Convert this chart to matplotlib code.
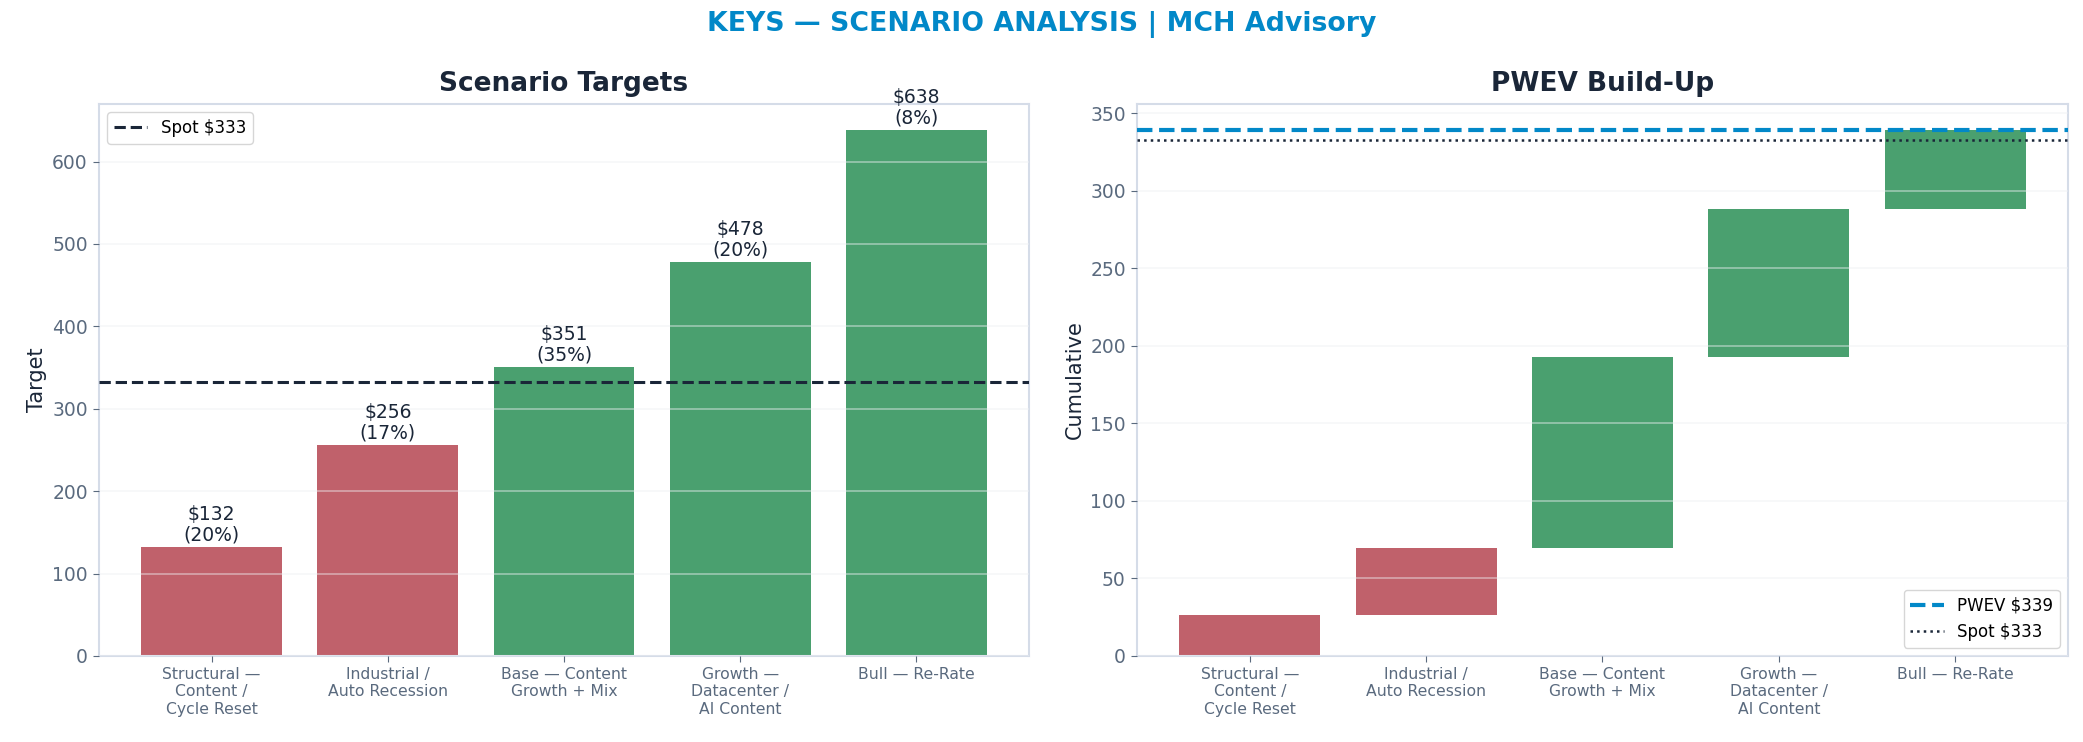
import numpy as np
import matplotlib.pyplot as plt

# scenario data
scenarios = ["Structural —\nContent /\nCycle Reset", "Industrial /\nAuto Recession",
             "Base — Content\nGrowth + Mix", "Growth —\nDatacenter /\nAI Content",
             "Bull — Re-Rate"]
targets = [132, 256, 351, 478, 638]
probs = [0.20, 0.17, 0.35, 0.20, 0.08]
spot = 333
pwev = 339

RED = "#c0616b"
GREEN = "#4aa06f"
NAVY = "#1a2638"
BLUE = "#0288c8"
GREY = "#5a6a7e"
SPINE = "#d5dce8"

colors = [RED if t < spot else GREEN for t in targets]
x = np.arange(len(scenarios))

fig = plt.figure(figsize=(20.83, 7.42), dpi=100)
ax1 = fig.add_axes([0.0475, 0.116, 0.4465, 0.744])
ax2 = fig.add_axes([0.5458, 0.116, 0.447, 0.744])

fig.suptitle("KEYS — SCENARIO ANALYSIS | MCH Advisory", color=BLUE,
             fontsize=19.3, fontweight="bold", y=0.985)

# left: scenario targets
ax1.bar(x, targets, width=0.8, color=colors, zorder=2)
ax1.axhline(spot, color=NAVY, ls="--", lw=2.2, label=f"Spot ${spot}", zorder=3)
for xi, t, p in zip(x, targets, probs):
    ax1.text(xi, t + 3, f"${t}\n({p:.0%})", ha="center", va="bottom",
             fontsize=13.5, color=NAVY, zorder=4, linespacing=1.1)
ax1.set_ylim(0, 670)
ax1.set_ylabel("Target", fontsize=15, color=NAVY)
ax1.set_title("Scenario Targets", fontsize=19, fontweight="bold", color=NAVY, pad=9)
ax1.legend(loc="upper left", fontsize=12, frameon=True, edgecolor="#cccccc")

# right: PWEV waterfall
contrib = [t * p for t, p in zip(targets, probs)]
bottoms = np.concatenate([[0], np.cumsum(contrib)[:-1]])
ax2.bar(x, contrib, bottom=bottoms, width=0.8, color=colors, zorder=2)
ax2.axhline(pwev, color=BLUE, ls="--", lw=3, label=f"PWEV ${pwev}", zorder=3)
ax2.axhline(spot, color=NAVY, ls=":", lw=1.8, label=f"Spot ${spot}", zorder=3)
ax2.set_ylim(0, 356)
ax2.set_ylabel("Cumulative", fontsize=15, color=NAVY)
ax2.set_title("PWEV Build-Up", fontsize=19, fontweight="bold", color=NAVY, pad=9)
ax2.legend(loc="lower right", fontsize=12, frameon=True, edgecolor="#cccccc")

for ax in (ax1, ax2):
    ax.set_xticks(x)
    ax.set_xticklabels(scenarios, fontsize=11.25, color=GREY)
    ax.tick_params(axis="y", labelsize=13.5, labelcolor=GREY, color=GREY, length=4.5)
    ax.tick_params(axis="x", color=GREY, length=4.5)
    ax.grid(axis="y", color="#eef0f3", lw=1.2, alpha=0.5, zorder=2.5)
    ax.set_axisbelow(False)
    for s in ax.spines.values():
        s.set_color(SPINE)
        s.set_linewidth(1.5)

fig.savefig("out.png", dpi=100, facecolor="white")
